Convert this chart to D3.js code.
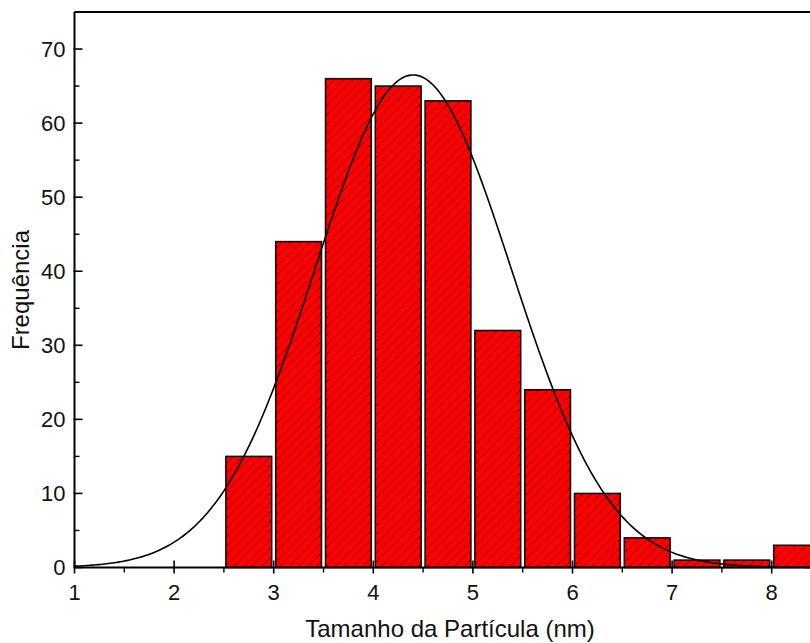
<!DOCTYPE html>
<html>
<head>
<meta charset="utf-8">
<script src="https://cdn.jsdelivr.net/npm/d3@7"></script>
<style>
  html, body { margin: 0; padding: 0; background: #fff; }
  svg { display: block; font-family: "Liberation Sans", Arial, sans-serif; }
</style>
</head>
<body>
<svg id="chart" width="810" height="643"></svg>
<script>
// Histogram bins (particle size, nm) and counts
const binStarts = [2.5, 3.0, 3.5, 4.0, 4.5, 5.0, 5.5, 6.0, 6.5, 7.0, 7.5, 8.0];
const binWidth = 0.5;
const counts = [15, 44, 66, 65, 63, 32, 24, 10, 4, 1, 1, 3];

// Gaussian fit parameters
const fitCenter = 4.40;
const fitSigma = 0.985;
const fitPeak = 66.5;

const xTicks = [1, 2, 3, 4, 5, 6, 7, 8];
const yTicks = [0, 10, 20, 30, 40, 50, 60, 70];

const svg = d3.select("#chart");
const plotLeft = 74.5, plotTop = 12, plotBottom = 567.5;
const x = d3.scaleLinear().domain([1, 9]).range([plotLeft, plotLeft + 8 * 99.6]);
const y = d3.scaleLinear().domain([0, 75]).range([plotBottom, plotTop]);

// Hatch fill
const defs = svg.append("defs");
const pat = defs.append("pattern")
  .attr("id", "hatch")
  .attr("patternUnits", "userSpaceOnUse")
  .attr("width", 6.5).attr("height", 6.5)
  .attr("patternTransform", "rotate(45)");
pat.append("rect").attr("width", 6.5).attr("height", 6.5).attr("fill", "#ff0000");
pat.append("line").attr("x1", 0).attr("y1", 0).attr("x2", 0).attr("y2", 6.5)
  .attr("stroke", "#5a0000").attr("stroke-width", 1);

// Bars
const inset = 2;
svg.append("g").selectAll("rect")
  .data(binStarts.map((b, i) => ({ x0: b, x1: b + binWidth, v: counts[i] })))
  .join("rect")
  .attr("x", d => x(d.x0) + inset)
  .attr("width", d => x(d.x1) - x(d.x0) - 2 * inset)
  .attr("y", d => y(d.v))
  .attr("height", d => y(0) - y(d.v))
  .attr("fill", "url(#hatch)")
  .attr("stroke", "#000")
  .attr("stroke-width", 1.5);

// Fit curve
const curvePts = d3.range(1, 9.001, 0.02).map(v => [v, fitPeak * Math.exp(-((v - fitCenter) ** 2) / (2 * fitSigma ** 2))]);
svg.append("path")
  .datum(curvePts)
  .attr("fill", "none")
  .attr("stroke", "#000")
  .attr("stroke-width", 1.6)
  .attr("d", d3.line().x(d => x(d[0])).y(d => y(d[1])));

// Frame
svg.append("line").attr("x1", plotLeft).attr("x2", x(9)).attr("y1", plotTop).attr("y2", plotTop)
  .attr("stroke", "#000").attr("stroke-width", 2);
svg.append("line").attr("x1", x(9)).attr("x2", x(9)).attr("y1", plotTop).attr("y2", plotBottom)
  .attr("stroke", "#000").attr("stroke-width", 2);

// Y axis
const yAxis = svg.append("g").attr("transform", `translate(${plotLeft},0)`);
yAxis.append("line").attr("x1", 0).attr("x2", 0).attr("y1", plotTop).attr("y2", plotBottom)
  .attr("stroke", "#000").attr("stroke-width", 2);
yAxis.selectAll(".ymaj").data(yTicks).join("line")
  .attr("class", "ymaj")
  .attr("x1", -1).attr("x2", 8).attr("y1", d => y(d)).attr("y2", d => y(d))
  .attr("stroke", "#000").attr("stroke-width", 1.6);
yAxis.selectAll(".ymin").data(yTicks.map(t => t + 5)).join("line")
  .attr("class", "ymin")
  .attr("x1", 0).attr("x2", 5).attr("y1", d => y(d)).attr("y2", d => y(d))
  .attr("stroke", "#000").attr("stroke-width", 1.4);
yAxis.selectAll("text").data(yTicks).join("text")
  .attr("x", -9).attr("y", d => y(d)).attr("dy", "0.36em")
  .attr("text-anchor", "end").attr("font-size", 22).attr("fill", "#111")
  .text(d => d);

// X axis
const xAxis = svg.append("g").attr("transform", `translate(0,${plotBottom})`);
xAxis.append("line").attr("x1", plotLeft).attr("x2", x(9)).attr("y1", 0).attr("y2", 0)
  .attr("stroke", "#000").attr("stroke-width", 2);
xAxis.selectAll(".xmaj").data(xTicks).join("line")
  .attr("class", "xmaj")
  .attr("x1", d => x(d)).attr("x2", d => x(d)).attr("y1", -7).attr("y2", 6)
  .attr("stroke", "#000").attr("stroke-width", 1.6);
xAxis.selectAll(".xmin").data(xTicks.map(t => t + 0.5)).join("line")
  .attr("class", "xmin")
  .attr("x1", d => x(d)).attr("x2", d => x(d)).attr("y1", 0).attr("y2", 5)
  .attr("stroke", "#000").attr("stroke-width", 1.4);
xAxis.selectAll("text").data(xTicks).join("text")
  .attr("x", d => x(d)).attr("y", 32)
  .attr("text-anchor", "middle").attr("font-size", 22).attr("fill", "#111")
  .text(d => d);

// Axis titles
svg.append("text").attr("x", 450).attr("y", 637)
  .attr("text-anchor", "middle").attr("font-size", 24).attr("fill", "#111")
  .text("Tamanho da Partícula (nm)");
svg.append("text").attr("transform", "translate(29,290) rotate(-90)")
  .attr("text-anchor", "middle").attr("font-size", 24).attr("fill", "#111")
  .text("Frequência");
</script>
</body>
</html>
